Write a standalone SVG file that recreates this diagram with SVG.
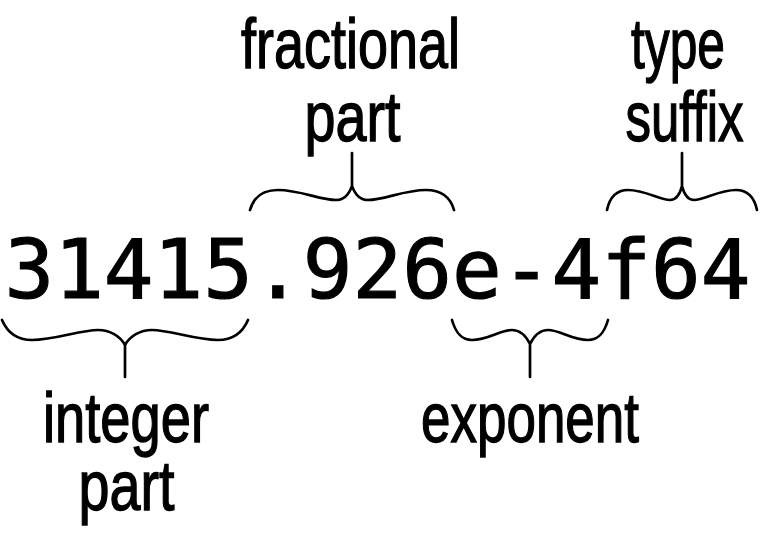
<svg xmlns="http://www.w3.org/2000/svg" width="763" height="534" viewBox="0 0 763 534">
  <style>
    .lbl { font-family: "Liberation Sans", "DejaVu Sans", sans-serif; font-size: 71px; fill: #000; stroke: #000; stroke-width: 1.4; text-anchor: middle; }
    .num { font-family: "DejaVu Sans Mono", "Liberation Mono", monospace; font-size: 82.6px; fill: #000; stroke: #000; stroke-width: 1.2; }
    .brace { fill: none; stroke: #000; stroke-width: 2.7; stroke-linecap: round; stroke-linejoin: round; }
  </style>
  <rect width="763" height="534" fill="#fff"/>

  <g id="literal">
    <text class="num" x="4.4" y="298" textLength="746" lengthAdjust="spacing">31415.926e-4f64</text>
  </g>

  <g id="fractional-part">
    <text class="lbl" x="350.5" y="68" textLength="219" lengthAdjust="spacingAndGlyphs">fractional</text>
    <text class="lbl" x="352.5" y="141" textLength="96" lengthAdjust="spacingAndGlyphs">part</text>
  </g>
  <g id="type-suffix">
    <text class="lbl" x="678" y="68" textLength="94" lengthAdjust="spacingAndGlyphs">type</text>
    <text class="lbl" x="684.5" y="141" textLength="118" lengthAdjust="spacingAndGlyphs">suffix</text>
  </g>
  <g id="integer-part">
    <text class="lbl" x="126" y="442" textLength="166" lengthAdjust="spacingAndGlyphs">integer</text>
    <text class="lbl" x="126.5" y="510" textLength="96" lengthAdjust="spacingAndGlyphs">part</text>
  </g>
  <g id="exponent">
    <text class="lbl" x="530" y="442" textLength="218" lengthAdjust="spacingAndGlyphs">exponent</text>
  </g>

  <g id="connectors">
    <path class="brace" d="M 2,320 C 8,334 18,340 32,340 C 55,340 80,330 98,330 C 110,330 120,336 125,345 C 130,336 140,330 152,330 C 170,330 195,340 218,340 C 232,340 242,334 248,320 M 125,345 V 377"/>
    <path class="brace" d="M 452,320 C 456,334 462,340 472,340 C 488,340 500,330 512,330 C 521,330 526,336 530,344 C 534,336 539,330 548,330 C 560,330 572,340 588,340 C 598,340 604,334 608,320 M 530,344 V 377"/>
    <path class="brace" d="M 250,210 C 254,196 264,190 278,190 C 300,190 320,200 336,200 C 345,200 349,194 352,186 C 355,194 359,200 368,200 C 384,200 404,190 426,190 C 440,190 450,196 454,210 M 352,186 V 153"/>
    <path class="brace" d="M 607,210 C 610,196 617,190 628,190 C 645,190 660,200 670,200 C 677,200 680,194 682,186 C 684,194 687,200 694,200 C 704,200 719,190 736,190 C 747,190 754,196 757,210 M 682,186 V 153"/>
  </g>
</svg>
